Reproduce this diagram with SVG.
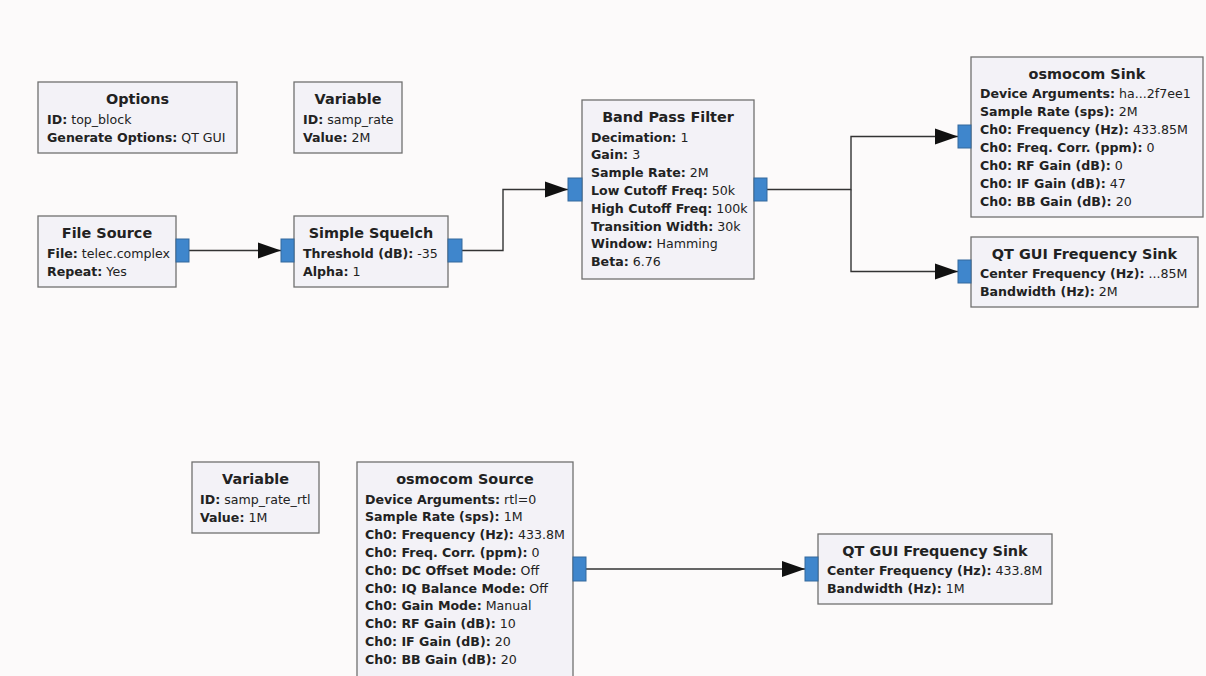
<svg xmlns="http://www.w3.org/2000/svg" width="1206" height="676" viewBox="0 0 1206 676">
<style>
.bg{fill:#fcfafa}
.blk{fill:#f3f2f7;stroke:#707070;stroke-width:1.3}
.port{fill:#3f86cc;stroke:#35689c;stroke-width:1}
.t{font-family:"DejaVu Sans",sans-serif;font-size:14.4px;font-weight:bold;fill:#222;text-anchor:middle}
.p{font-family:"DejaVu Sans",sans-serif;font-size:12.6px;fill:#222}
.p tspan.k{font-weight:bold}
.c{fill:none;stroke:#333;stroke-width:1.4}
</style>
<defs>
<marker id="arr" markerUnits="userSpaceOnUse" markerWidth="24" markerHeight="18" refX="23" refY="8.5" orient="auto">
<path d="M0,0.5 L23,8.5 L0,16.5 Z" fill="#111"/>
</marker>
</defs>
<rect class="bg" x="0" y="0" width="1206" height="676"/>
<g id="connectors">
<path class="c" d="M189,250.5 H281" marker-end="url(#arr)"/>
<path class="c" d="M462,250.5 H503 V189.5 H568" marker-end="url(#arr)"/>
<path class="c" d="M767,189.5 H851 V136.5 H958" marker-end="url(#arr)"/>
<path class="c" d="M851,189.5 V271.5 H958" marker-end="url(#arr)"/>
<path class="c" d="M586,569 H805" marker-end="url(#arr)"/>
</g>
<g id="options">
<rect class="blk" x="38" y="82" width="199" height="71"/>
<text class="t" x="137.5" y="104">Options</text>
<text class="p" x="47" y="123.5"><tspan class="k">ID:</tspan> top_block</text>
<text class="p" x="47" y="141.5"><tspan class="k">Generate Options:</tspan> QT GUI</text>
</g>
<g id="variable_samp_rate">
<rect class="blk" x="294" y="82" width="108" height="71"/>
<text class="t" x="348" y="104">Variable</text>
<text class="p" x="303" y="123.5"><tspan class="k">ID:</tspan> samp_rate</text>
<text class="p" x="303" y="141.5"><tspan class="k">Value:</tspan> 2M</text>
</g>
<g id="file_source">
<rect class="blk" x="38" y="216" width="138" height="71"/>
<rect class="port" x="176" y="239" width="13" height="23"/>
<text class="t" x="107" y="238">File Source</text>
<text class="p" x="47" y="257.5"><tspan class="k">File:</tspan> telec.complex</text>
<text class="p" x="47" y="275.5"><tspan class="k">Repeat:</tspan> Yes</text>
</g>
<g id="simple_squelch">
<rect class="blk" x="294" y="216" width="154" height="71"/>
<rect class="port" x="281" y="239" width="13" height="23"/>
<rect class="port" x="448" y="239" width="14" height="23"/>
<text class="t" x="371" y="238">Simple Squelch</text>
<text class="p" x="303" y="257.5"><tspan class="k">Threshold (dB):</tspan> -35</text>
<text class="p" x="303" y="275.5"><tspan class="k">Alpha:</tspan> 1</text>
</g>
<g id="band_pass_filter">
<rect class="blk" x="582" y="100" width="172" height="179"/>
<rect class="port" x="568" y="178" width="14" height="23"/>
<rect class="port" x="754" y="178" width="13" height="23"/>
<text class="t" x="668" y="122">Band Pass Filter</text>
<text class="p" x="591" y="141.5"><tspan class="k">Decimation:</tspan> 1</text>
<text class="p" x="591" y="159.3"><tspan class="k">Gain:</tspan> 3</text>
<text class="p" x="591" y="177.1"><tspan class="k">Sample Rate:</tspan> 2M</text>
<text class="p" x="591" y="194.9"><tspan class="k">Low Cutoff Freq:</tspan> 50k</text>
<text class="p" x="591" y="212.7"><tspan class="k">High Cutoff Freq:</tspan> 100k</text>
<text class="p" x="591" y="230.5"><tspan class="k">Transition Width:</tspan> 30k</text>
<text class="p" x="591" y="248.3"><tspan class="k">Window:</tspan> Hamming</text>
<text class="p" x="591" y="266.1"><tspan class="k">Beta:</tspan> 6.76</text>
</g>
<g id="osmocom_sink">
<rect class="blk" x="971" y="57" width="232" height="160"/>
<rect class="port" x="958" y="125" width="13" height="23"/>
<text class="t" x="1087" y="78.5">osmocom Sink</text>
<text class="p" x="980" y="97.5"><tspan class="k">Device Arguments:</tspan> ha...2f7ee1</text>
<text class="p" x="980" y="115.5"><tspan class="k">Sample Rate (sps):</tspan> 2M</text>
<text class="p" x="980" y="133.5"><tspan class="k">Ch0: Frequency (Hz):</tspan> 433.85M</text>
<text class="p" x="980" y="151.5"><tspan class="k">Ch0: Freq. Corr. (ppm):</tspan> 0</text>
<text class="p" x="980" y="169.5"><tspan class="k">Ch0: RF Gain (dB):</tspan> 0</text>
<text class="p" x="980" y="187.5"><tspan class="k">Ch0: IF Gain (dB):</tspan> 47</text>
<text class="p" x="980" y="205.5"><tspan class="k">Ch0: BB Gain (dB):</tspan> 20</text>
</g>
<g id="qt_gui_freq_sink_1">
<rect class="blk" x="971" y="237" width="227" height="70"/>
<rect class="port" x="958" y="260" width="13" height="23"/>
<text class="t" x="1084.5" y="258.5">QT GUI Frequency Sink</text>
<text class="p" x="980" y="277.5"><tspan class="k">Center Frequency (Hz):</tspan> ...85M</text>
<text class="p" x="980" y="295.5"><tspan class="k">Bandwidth (Hz):</tspan> 2M</text>
</g>
<g id="variable_samp_rate_rtl">
<rect class="blk" x="192" y="462" width="127" height="71"/>
<text class="t" x="255.5" y="484">Variable</text>
<text class="p" x="200" y="503.5"><tspan class="k">ID:</tspan> samp_rate_rtl</text>
<text class="p" x="200" y="521.5"><tspan class="k">Value:</tspan> 1M</text>
</g>
<g id="osmocom_source">
<rect class="blk" x="357" y="462" width="216" height="230"/>
<rect class="port" x="573" y="557" width="13" height="24"/>
<text class="t" x="465" y="484">osmocom Source</text>
<text class="p" x="365" y="503.5"><tspan class="k">Device Arguments:</tspan> rtl=0</text>
<text class="p" x="365" y="521.3"><tspan class="k">Sample Rate (sps):</tspan> 1M</text>
<text class="p" x="365" y="539.1"><tspan class="k">Ch0: Frequency (Hz):</tspan> 433.8M</text>
<text class="p" x="365" y="556.9"><tspan class="k">Ch0: Freq. Corr. (ppm):</tspan> 0</text>
<text class="p" x="365" y="574.7"><tspan class="k">Ch0: DC Offset Mode:</tspan> Off</text>
<text class="p" x="365" y="592.5"><tspan class="k">Ch0: IQ Balance Mode:</tspan> Off</text>
<text class="p" x="365" y="610.3"><tspan class="k">Ch0: Gain Mode:</tspan> Manual</text>
<text class="p" x="365" y="628.1"><tspan class="k">Ch0: RF Gain (dB):</tspan> 10</text>
<text class="p" x="365" y="645.9"><tspan class="k">Ch0: IF Gain (dB):</tspan> 20</text>
<text class="p" x="365" y="663.7"><tspan class="k">Ch0: BB Gain (dB):</tspan> 20</text>
</g>
<g id="qt_gui_freq_sink_2">
<rect class="blk" x="818" y="534" width="234" height="70"/>
<rect class="port" x="805" y="557" width="13" height="24"/>
<text class="t" x="935" y="555.5">QT GUI Frequency Sink</text>
<text class="p" x="827" y="574.5"><tspan class="k">Center Frequency (Hz):</tspan> 433.8M</text>
<text class="p" x="827" y="592.5"><tspan class="k">Bandwidth (Hz):</tspan> 1M</text>
</g>
</svg>
